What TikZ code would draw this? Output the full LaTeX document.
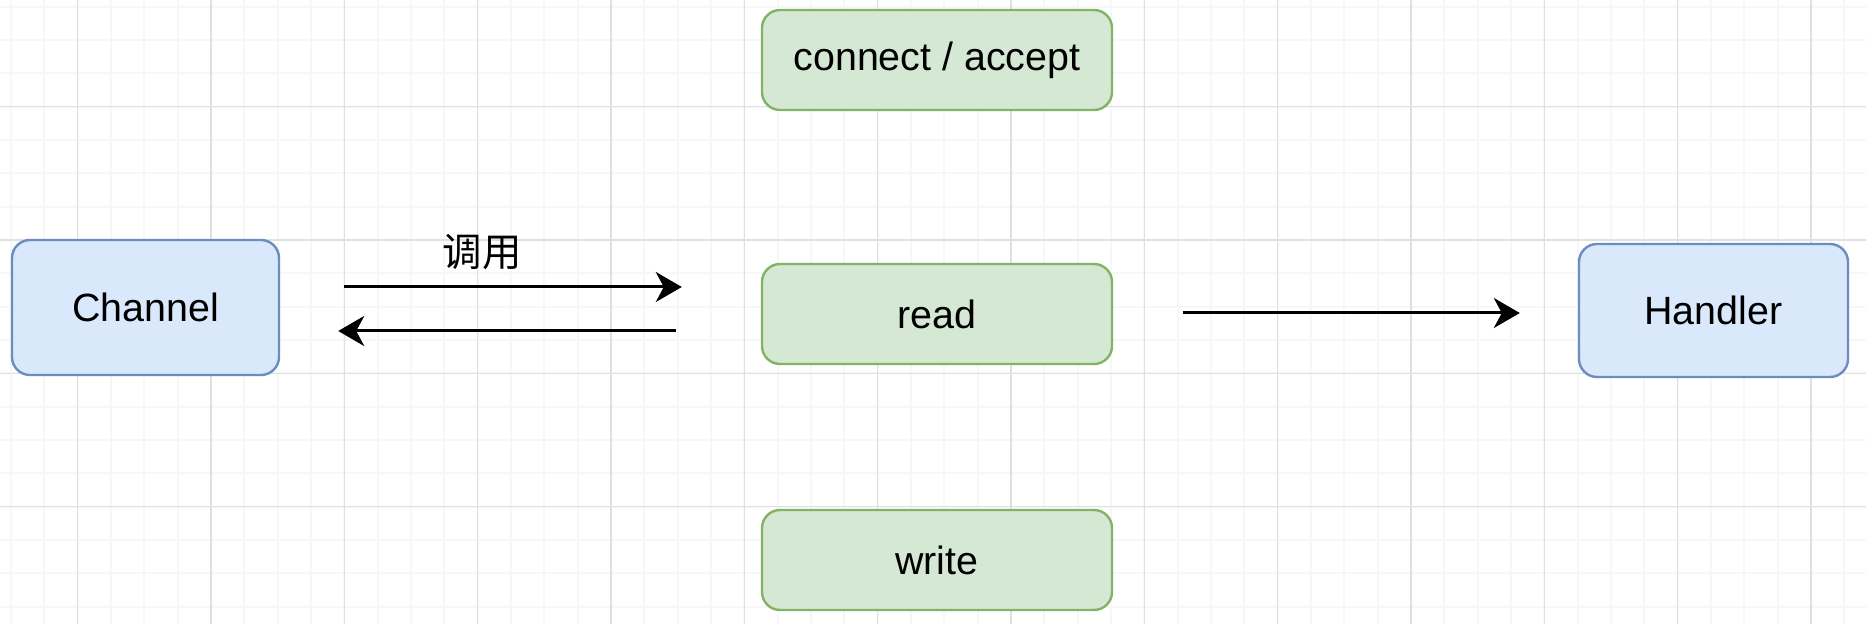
\documentclass[tikz,border=0pt]{standalone}
\usepackage{fontspec}
\setmainfont{Liberation Sans}
\newfontfamily\cjk{Noto Sans CJK SC}
\usepackage{xcolor}
\usetikzlibrary{arrows.meta,positioning}
\definecolor{bluefill}{HTML}{DAE8FC}
\definecolor{bluedraw}{HTML}{6C8EBF}
\definecolor{greenfill}{HTML}{D5E8D4}
\definecolor{greendraw}{HTML}{82B366}
\newcommand{\lbl}{\fontsize{19.7}{24}\selectfont}

\begin{document}
\begin{tikzpicture}[
  x=0.5pt,y=-0.5pt,
  box/.style={draw,rounded corners=9pt,align=center,font=\lbl,line width=1.2pt},
  blu/.style={box,fill=bluefill,draw=bluedraw},
  grn/.style={box,fill=greenfill,draw=greendraw,minimum width=175pt,minimum height=50pt},
  ar/.style={-{Stealth[length=13pt,width=15pt,inset=4pt]},line width=1.5pt,black},
  minor/.style={line width=1.1pt,black!3},
  major/.style={line width=0.7pt,black!12}
]
\useasboundingbox[fill=white] (0,0) rectangle (1866,624);
% grid
\foreach \k in {0,...,55} \draw[minor] (11+33.333*\k,0) -- (11+33.333*\k,624);
\foreach \k in {0,...,18} \draw[minor] (0,6.7+33.333*\k) -- (1866,6.7+33.333*\k);
\foreach \k in {0,...,13} \draw[major] (77.7+133.333*\k,0) -- (77.7+133.333*\k,624);
\foreach \k in {0,...,3} \draw[major] (0,106.7+133.333*\k) -- (1866,106.7+133.333*\k);

\node[blu,minimum width=133.5pt,minimum height=67.5pt] (chan) at (145.5,307.5) {Channel};
\node[grn] (conn) at (937,60) {connect / accept};
\node[grn] (rd) at (937,314) {read};
\node[grn] (wr) at (937,560) {write};
\node[blu,minimum width=134.5pt,minimum height=66.5pt] (hdl) at (1713.5,310.5) {Handler};

\coordinate (callY) at (0,287);
\coordinate (backY) at (0,331);
\coordinate (passY) at (0,313);
\draw[ar,shorten <=32pt,shorten >=39.5pt] (chan.east |- callY) -- (rd.west |- callY)
      node[pos=0.42,yshift=17.5pt,font=\lbl\cjk]{调用};
\draw[ar,shorten <=42.5pt,shorten >=29pt] (rd.west |- backY) -- (chan.east |- backY);
\draw[ar,shorten <=35pt,shorten >=29pt] (rd.east |- passY) -- (hdl.west |- passY);
\end{tikzpicture}
\end{document}
